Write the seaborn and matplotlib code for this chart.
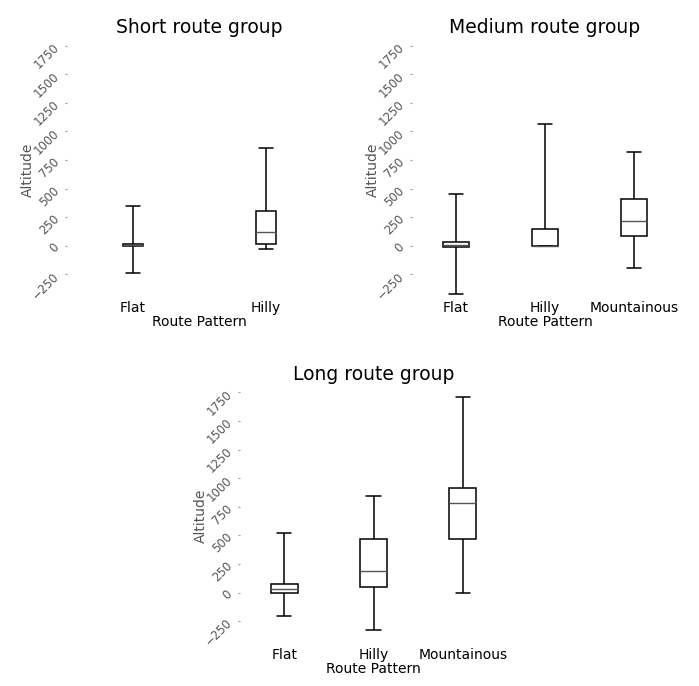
import matplotlib
matplotlib.use("Agg")
import matplotlib.pyplot as plt
import seaborn as sns
import pandas as pd

# ---- data (five-number summaries: min, Q1, median, Q3, max) ----
short_patterns = ["Flat", "Hilly"]
short_flat = [-240, 0, 5, 12, 345]
short_hilly = [-33, 19, 118, 302, 855]

medium_patterns = ["Flat", "Hilly", "Mountainous"]
medium_flat = [-424, -10, 10, 33, 456]
medium_hilly = [-5, -3, -3, 142, 1068]
medium_mountainous = [-191, 86, 217, 409, 815]

long_patterns = ["Flat", "Hilly", "Mountainous"]
long_flat = [-208, 0, 28, 72, 517]
long_hilly = [-325, 45, 188, 465, 846]
long_mountainous = [-7, 468, 782, 916, 1706]

titles = ["Short route group", "Medium route group", "Long route group"]
y_ticks = [-250, 0, 250, 500, 750, 1000, 1250, 1500, 1750]


def make_df(patterns, series):
    rows = []
    for p, vals in zip(patterns, series):
        for v in vals:
            rows.append({"Route Pattern": p, "Altitude": v})
    return pd.DataFrame(rows)


groups = [
    (short_patterns, [short_flat, short_hilly], 0.15, 0.1),
    (medium_patterns, [medium_flat, medium_hilly, medium_mountainous], 0.3, 0.16),
    (long_patterns, [long_flat, long_hilly, long_mountainous], 0.3, 0.16),
]

sns.set_style("white")
plt.rcParams["font.family"] = ["DejaVu Sans"]
plt.rcParams["text.color"] = "black"
plt.rcParams["axes.labelcolor"] = "black"
plt.rcParams["axes.titlecolor"] = "black"

W, H = 699, 686
fig = plt.figure(figsize=(W / 100, H / 100), dpi=100)


def px_axes(left, top, width, height):
    return fig.add_axes([left / W, 1 - (top + height) / H, width / W, height / H])


axes = [
    px_axes(66.5, 41.5, 266, 255.7),
    px_axes(411.5, 41.5, 267, 255.7),
    px_axes(239.5, 388.3, 268, 255.7),
]

for ax, (patterns, series, w, cw), title in zip(axes, groups, titles):
    df = make_df(patterns, series)
    sns.boxplot(
        data=df, x="Route Pattern", y="Altitude", order=patterns, ax=ax,
        whis=(0, 100), width=w, showfliers=False, color="white",
        linecolor="black", linewidth=1.1, capwidths=cw,
        medianprops={"color": "#555555", "linewidth": 1.0},
    )
    ax.set_ylim(-450, 1785)
    ax.set_yticks(y_ticks)
    ax.set_yticklabels([str(t).replace("-", "\u2212") for t in y_ticks],
                       rotation=45, rotation_mode="anchor", ha="right", va="center",
                       fontsize=8.5, color="#555555")
    ax.tick_params(axis="y", length=1.5, width=0.8, color="#999999", pad=5, left=True)
    ax.tick_params(axis="x", length=0, pad=3, labelsize=10, colors="black")
    for s in ax.spines.values():
        s.set_visible(False)
    ax.set_title(title, fontsize=13.5, pad=6, color="black")
    ax.set_xlabel("Route Pattern", fontsize=10, labelpad=0, color="black")
    ax.set_ylabel("Altitude", fontsize=10, color="#555555")
    ax.yaxis.set_label_coords(-0.118, 0.5)

fig.savefig("out.png", dpi=100)
